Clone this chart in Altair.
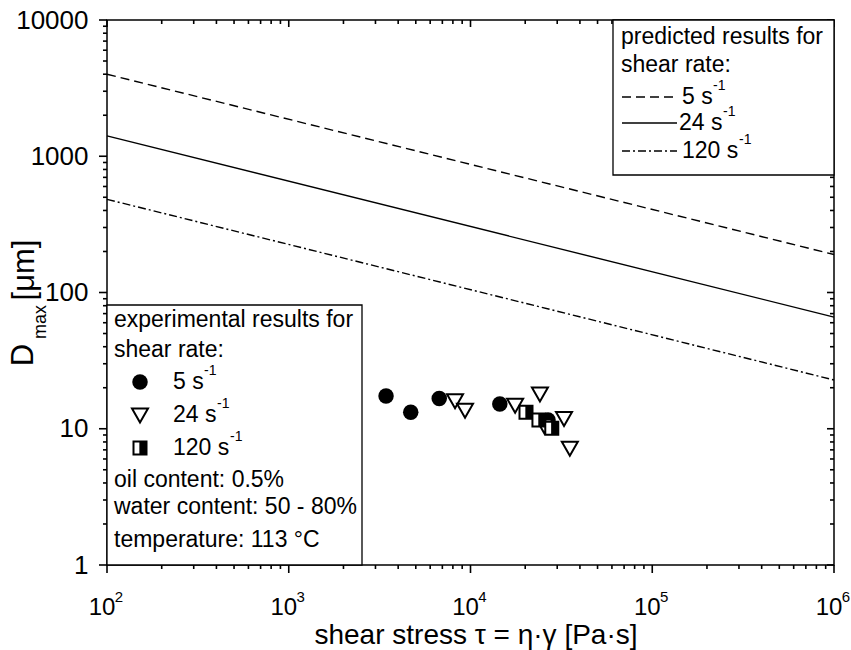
import altair as alt
import pandas as pd

FONT = "Liberation Sans"

# ---- data ----
c5_tau = [3430, 4690, 6730, 14500, 26700]
c5_d = [17.4, 13.2, 16.7, 15.2, 11.6]
t24_tau = [8220, 9330, 17600, 24100, 25500, 32700, 35200]
t24_d = [16.1, 13.7, 14.9, 18.0, 10.5, 11.9, 7.2]
s120_tau = [20200, 23800, 28000]
s120_d = [13.2, 11.6, 10.1]

pred_tau = [100, 1000000]
pred5 = [4000, 190]
pred24 = [1410, 66]
pred120 = [483, 22.8]

x_major = [100, 1000, 10000, 100000, 1000000]
x_exp = ["2", "3", "4", "5", "6"]
y_major = [1, 10, 100, 1000, 10000]
x_minor = [m * 10 ** k for k in range(2, 6) for m in range(2, 10)]
y_minor = [m * 10 ** k for k in range(0, 4) for m in range(2, 10)]

W, H = 727, 545
xs = alt.Scale(type="log", domain=[100, 1000000], nice=False)
ys = alt.Scale(type="log", domain=[1, 10000], nice=False)

one = pd.DataFrame({"a": [0]})

XAX = alt.Axis(values=x_major, labels=False, ticks=False, domain=False, grid=False, title=None)
YAX = alt.Axis(values=y_major, format="d", ticks=False, domain=False, grid=False, title=None,
               labelFont=FONT, labelFontSize=26, labelColor="black", labelPadding=19)


def txt(s, x, y, size=23, align="left", angle=0, baseline="middle"):
    return alt.Chart(one).mark_text(
        text=s, align=align, baseline=baseline, fontSize=size, font=FONT,
        color="black", angle=angle
    ).encode(x=alt.value(x), y=alt.value(y))


def sup(s, x, y, size=14):
    return txt(s, x, y, size=size)


# ---- predicted lines ----
def pred_line(vals, dash):
    df = pd.DataFrame({"tau": pred_tau, "d": vals})
    m = alt.Chart(df).mark_line(color="black", strokeWidth=1.4, strokeDash=dash) if dash else \
        alt.Chart(df).mark_line(color="black", strokeWidth=1.4)
    return m.encode(
        x=alt.X("tau:Q", scale=xs, axis=XAX),
        y=alt.Y("d:Q", scale=ys, axis=YAX),
    )


l5 = pred_line(pred5, [9, 5])
l24 = pred_line(pred24, None)
l120 = pred_line(pred120, [8, 3, 2, 3])

# ---- experimental points ----
circ = alt.Chart(pd.DataFrame({"tau": c5_tau, "d": c5_d})).mark_point(
    shape="circle", size=240, filled=True, color="black", opacity=1
).encode(x=alt.X("tau:Q", scale=xs, axis=XAX), y=alt.Y("d:Q", scale=ys, axis=YAX))

TRI = "M-1,-0.8L1,-0.8L0,0.95Z"
tri = alt.Chart(pd.DataFrame({"tau": t24_tau, "d": t24_d})).mark_point(
    shape=TRI, size=256, filled=True, fill="white", stroke="black", strokeWidth=2, opacity=1
).encode(x=alt.X("tau:Q", scale=xs, axis=XAX), y=alt.Y("d:Q", scale=ys, axis=YAX))

SQ = "M-1,-1H1V1H-1Z"
HALF = "M-0.1,-1H1V1H-0.1Z"
sqdf = pd.DataFrame({"tau": s120_tau, "d": s120_d})
sq_out = alt.Chart(sqdf).mark_point(
    shape=SQ, size=169, filled=True, fill="white", stroke="black", strokeWidth=2, opacity=1
).encode(x=alt.X("tau:Q", scale=xs, axis=XAX), y=alt.Y("d:Q", scale=ys, axis=YAX))
sq_in = alt.Chart(sqdf).mark_point(
    shape=HALF, size=169, filled=True, fill="black", strokeWidth=0, opacity=1
).encode(x=alt.X("tau:Q", scale=xs, axis=XAX), y=alt.Y("d:Q", scale=ys, axis=YAX))


# ---- ticks (outer on left/bottom, inner on right/top) ----
def yticks(vals, x1, x2):
    return alt.Chart(pd.DataFrame({"v": vals})).mark_rule(color="black", strokeWidth=1.6).encode(
        y=alt.Y("v:Q", scale=ys, axis=YAX), x=alt.value(x1), x2=alt.value(x2))


def xticks(vals, y1, y2):
    return alt.Chart(pd.DataFrame({"v": vals})).mark_rule(color="black", strokeWidth=1.6).encode(
        x=alt.X("v:Q", scale=xs, axis=XAX), y=alt.value(y1), y2=alt.value(y2))


ticks = [
    yticks(y_major, -8, 0), yticks(y_minor, -4, 0),
    yticks(y_major, W - 7, W), yticks(y_minor, W - 4, W),
    xticks(x_major, H, H + 8), xticks(x_minor, H, H + 4),
    xticks(x_major, 0, 7), xticks(x_minor, 0, 4),
]

# ---- x tick labels (10^n) ----
xl = pd.DataFrame({"v": x_major, "e": x_exp})
xlab = alt.Chart(xl).mark_text(text="10", fontSize=24, font=FONT, color="black",
                               align="center", baseline="middle", dx=-5).encode(
    x=alt.X("v:Q", scale=xs, axis=XAX), y=alt.value(588))
xsup = alt.Chart(xl).mark_text(fontSize=15, font=FONT, color="black",
                               align="center", baseline="middle", dx=12).encode(
    x=alt.X("v:Q", scale=xs, axis=XAX), y=alt.value(577), text="e:N")

# ---- titles ----
titles = [
    txt("shear stress \u03c4 = \u03b7\u00b7\u03b3 [Pa\u00b7s]", 369, 616, size=28, align="center"),
    txt("D", -83, 335, size=31, align="center", angle=270),
    txt("max", -66, 302, size=18, align="center", angle=270),
    txt("[\u03bcm]", -82, 250, size=31, align="center", angle=270),
]


# ---- legend boxes ----
def box(x1, x2, y1, y2):
    return alt.Chart(one).mark_rect(fill="white", stroke="black", strokeWidth=1.3).encode(
        x=alt.value(x1), x2=alt.value(x2), y=alt.value(y1), y2=alt.value(y2))


leg = [box(0, 255, 285, H), box(506, W, 0, 155)]

# lower-left legend
leg += [
    txt("experimental results for", 7, 300),
    txt("shear rate:", 7, 330),
    alt.Chart(one).mark_point(shape="circle", size=240, filled=True, color="black", opacity=1)
      .encode(x=alt.value(33), y=alt.value(362)),
    alt.Chart(one).mark_point(shape=TRI, size=256, filled=True, fill="white", stroke="black",
                              strokeWidth=2, opacity=1).encode(x=alt.value(33), y=alt.value(395)),
    alt.Chart(one).mark_point(shape=SQ, size=169, filled=True, fill="white", stroke="black",
                              strokeWidth=2, opacity=1).encode(x=alt.value(33), y=alt.value(428)),
    alt.Chart(one).mark_point(shape=HALF, size=169, filled=True, fill="black", strokeWidth=0,
                              opacity=1).encode(x=alt.value(33), y=alt.value(428)),
    txt("5 s", 66, 362), sup("-1", 97, 351),
    txt("24 s", 66, 395), sup("-1", 110, 384),
    txt("120 s", 66, 428), sup("-1", 123, 417),
    txt("oil content: 0.5%", 7, 460),
    txt("water content: 50 - 80%", 7, 487),
    txt("temperature: 113 \u00b0C", 7, 520),
]


# upper-right legend
def sample(y, dash):
    m = alt.Chart(one).mark_rule(color="black", strokeWidth=1.4, strokeDash=dash) if dash else \
        alt.Chart(one).mark_rule(color="black", strokeWidth=1.4)
    return m.encode(x=alt.value(515), x2=alt.value(570), y=alt.value(y))


leg += [
    txt("predicted results for", 514, 17),
    txt("shear rate:", 514, 45),
    sample(77, [9, 5]), txt("5 s", 575, 77), sup("-1", 606, 66),
    sample(103, None), txt("24 s", 572, 103), sup("-1", 616, 92),
    sample(131, [8, 3, 2, 3]), txt("120 s", 575, 131), sup("-1", 632, 120),
]

chart = alt.layer(
    l5, l24, l120, *ticks, circ, tri, sq_out, sq_in, xlab, xsup, *titles, *leg
).properties(
    width=W, height=H,
    padding={"left": 107, "top": 20, "right": 17, "bottom": 85},
    autosize=alt.AutoSizeParams(type="none"),
).configure(background="white").configure_view(stroke="black", strokeWidth=1.5)

chart.save("out.html", embed_options={"renderer": "svg", "actions": False})
